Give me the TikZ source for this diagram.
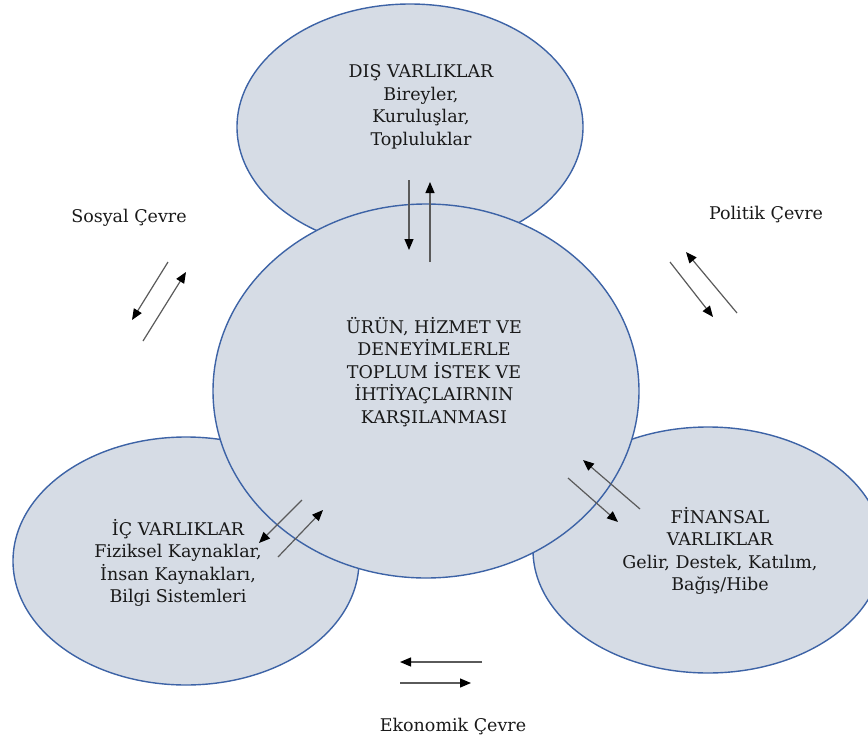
\documentclass[tikz,border=0pt]{standalone}
\usepackage{fontspec}
\setmainfont{DejaVu Serif}
\usetikzlibrary{shapes.geometric,arrows.meta}
\definecolor{dolgu}{RGB}{214,220,229}
\definecolor{kenar}{RGB}{61,99,166}
\definecolor{okgri}{RGB}{90,90,90}

\begin{document}
\begin{tikzpicture}[x=1pt,y=-1pt,
  varlik/.style={ellipse,draw=kenar,fill=dolgu,line width=1.4pt,inner sep=0pt},
  yazi/.style={align=center,font=\fontsize{17.5}{22.5}\selectfont,text=black!90},
  okcizgi/.style={draw=okgri,line width=1.2pt,-{Triangle[length=11pt,width=9pt,color=black]}}]
\useasboundingbox (0,0) rectangle (868,742);

% varliklar
\node[varlik,minimum width=346pt,minimum height=246pt] (dis) at (410,127) {};
\node[varlik,minimum width=346pt,minimum height=248pt] (ic) at (186,561) {};
\node[varlik,minimum width=350pt,minimum height=246pt] (fin) at (708,550) {};
% orta daire
\node[varlik,minimum width=426pt,minimum height=374pt] (urun) at (426,391) {};

\node[yazi] (disyazi) at (421,107) {DIŞ VARLIKLAR\\Bireyler,\\Kuruluşlar,\\Topluluklar};
\node[yazi] (urunyazi) at (434,372) {ÜRÜN, HİZMET VE\\DENEYİMLERLE\\TOPLUM İSTEK VE\\İHTİYAÇLAIRNIN\\KARŞILANMASI};
\node[yazi] (icyazi) at (178,563) {İÇ VARLIKLAR\\Fiziksel Kaynaklar,\\İnsan Kaynakları,\\Bilgi Sistemleri};
\node[yazi] (finyazi) at (720,551) {FİNANSAL\\VARLIKLAR\\Gelir, Destek, Katılım,\\Bağış/Hibe};

% cevreler
\node[yazi] (sosyal) at (129,218) {Sosyal Çevre};
\node[yazi] (politik) at (766,215) {Politik Çevre};
\node[yazi] (ekonomik) at (453,727) {Ekonomik Çevre};

% ok uclari
\coordinate (ust1) at (409,180); \coordinate (ust2) at (409,250);
\coordinate (ust3) at (430,262); \coordinate (ust4) at (430,182);
\coordinate (sos1) at (168,262); \coordinate (sos2) at (132,320);
\coordinate (sos3) at (143,341); \coordinate (sos4) at (186,272);
\coordinate (pol1) at (670,262); \coordinate (pol2) at (713,317);
\coordinate (pol3) at (737,313); \coordinate (pol4) at (686,252);
\coordinate (fin1) at (640,509); \coordinate (fin2) at (583,460);
\coordinate (fin3) at (568,478); \coordinate (fin4) at (618,522);
\coordinate (ic1) at (302,500); \coordinate (ic2) at (259,543);
\coordinate (ic3) at (278,557); \coordinate (ic4) at (323,510);
\coordinate (eko1) at (482,662); \coordinate (eko2) at (400,662);
\coordinate (eko3) at (400,683); \coordinate (eko4) at (471,683);

\foreach \a/\b in {ust1/ust2,ust3/ust4,sos1/sos2,sos3/sos4,pol1/pol2,pol3/pol4,
  fin1/fin2,fin3/fin4,ic1/ic2,ic3/ic4,eko1/eko2,eko3/eko4}{
  \draw[okcizgi] (\a) -- (\b);
}
\end{tikzpicture}
\end{document}
